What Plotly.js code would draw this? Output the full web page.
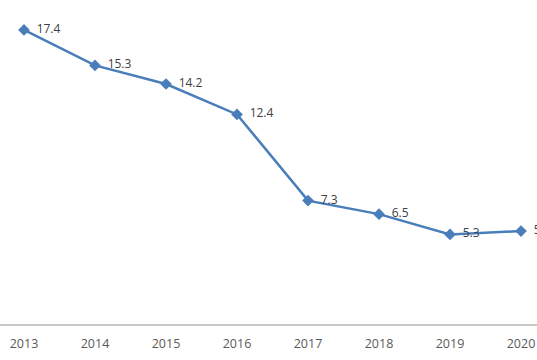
<!DOCTYPE html>
<html>
<head>
<meta charset="utf-8">
<script src="https://cdn.plot.ly/plotly-3.0.1.min.js"></script>
<style>html,body{margin:0;padding:0;background:#fff;}#chart{width:537px;height:360px;}</style>
</head>
<body>
<div id="chart"></div>
<script>
const years = [2013, 2014, 2015, 2016, 2017, 2018, 2019, 2020];
const values = [17.4, 15.3, 14.2, 12.4, 7.3, 6.5, 5.3, 5.5];
const tickLabels = ["2013", "2014", "2015", "2016", "2017", "2018", "2019", "2020"];

const trace = {
  x: years,
  y: values,
  type: "scatter",
  mode: "lines+markers+text",
  text: values.map(v => "\u2002" + v.toFixed(1)),
  textposition: "middle right",
  textfont: {family: "Open Sans, DejaVu Sans, sans-serif", size: 12, color: "#404040"},
  cliponaxis: false,
  line: {color: "#4A7EBB", width: 2.5},
  marker: {symbol: "diamond", size: 9, color: "#4A7EBB"},
  hoverinfo: "none"
};

const layout = {
  width: 537, height: 360,
  margin: {l: 0, r: 0, t: 0, b: 36, pad: 0},
  paper_bgcolor: "#ffffff",
  plot_bgcolor: "#ffffff",
  showlegend: false,
  xaxis: {
    range: [2012.662, 2020.225],
    tickvals: years,
    ticktext: tickLabels,
    showgrid: false,
    zeroline: false,
    showline: true,
    linecolor: "#c8c8c8",
    linewidth: 1.5,
    ticks: "",
    ticklabelstandoff: 7,
    tickfont: {family: "Open Sans, DejaVu Sans, sans-serif", size: 12.5, color: "#595959"}
  },
  yaxis: {
    range: [0, 19.17],
    visible: false,
    showgrid: false,
    zeroline: false
  }
};

Plotly.newPlot("chart", [trace], layout, {displayModeBar: false, staticPlot: true});
</script>
</body>
</html>
